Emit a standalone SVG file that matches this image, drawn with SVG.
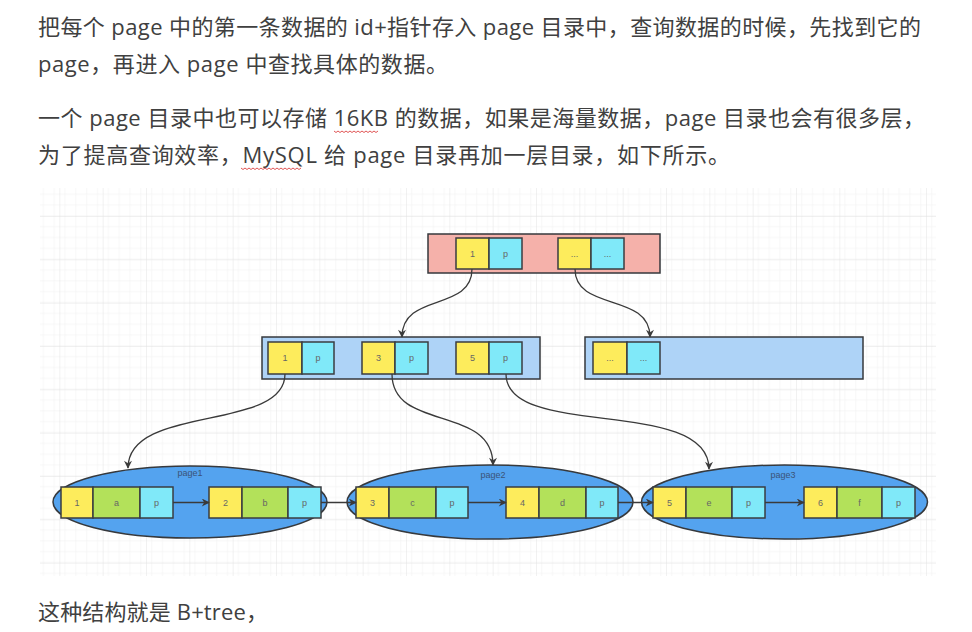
<svg xmlns="http://www.w3.org/2000/svg" width="972" height="632" viewBox="0 0 972 632">
<defs>
<style>
.body{font-family:"Open Sans","Noto Sans CJK SC",sans-serif;font-size:22px;fill:#404040}
.cell{stroke:#3a3d40;stroke-width:1.5}
.y{fill:#fdec5c}
.c{fill:#80e9f9}
.g{fill:#b3e15a}
.ct{font-family:"Liberation Sans",Arial,sans-serif;font-size:9px;fill:#666;text-anchor:middle}
.pl{font-family:"Liberation Sans",Arial,sans-serif;font-size:9px;fill:#3b5377;text-anchor:middle}
.ell{fill:#54a3ef;stroke:#36393d;stroke-width:1.5}
.con{fill:none;stroke:#3a3a3a;stroke-width:1.3;marker-end:url(#arr)}
.wave{fill:none;stroke:#e05555;stroke-width:1}
</style>
<marker id="arr" viewBox="0 0 10 10" refX="9" refY="5" markerWidth="9" markerHeight="8" orient="auto" markerUnits="userSpaceOnUse">
<path d="M0,0 L10,5 L0,10 L3,5 Z" fill="#3a3a3a"/>
</marker>
<pattern id="minor" patternUnits="userSpaceOnUse" x="16" y="-0.67" width="10.833" height="10.833">
<path d="M0,0 H10.833 M0,0 V10.833" stroke="#f0f0f0" stroke-width="1" fill="none"/>
</pattern>
<pattern id="major" patternUnits="userSpaceOnUse" x="16" y="-0.67" width="43.333" height="43.333">
<rect width="43.333" height="43.333" fill="url(#minor)"/>
<path d="M0,0 H43.333 M0,0 V43.333" stroke="#e3e3e3" stroke-width="1" fill="none"/>
</pattern>
</defs>
<rect width="972" height="632" fill="#ffffff"/>
<g id="text">
<text class="body" x="38" y="35" textLength="883" lengthAdjust="spacing">把每个 page 中的第一条数据的 id+指针存入 page 目录中，查询数据的时候，先找到它的</text>
<text class="body" x="38" y="72" textLength="410" lengthAdjust="spacing">page，再进入 page 中查找具体的数据。</text>
<text class="body" x="38" y="126" textLength="887" lengthAdjust="spacing">一个 page 目录中也可以存储 16KB 的数据，如果是海量数据，page 目录也会有很多层，</text>
<text class="body" x="38" y="163" textLength="692" lengthAdjust="spacing">为了提高查询效率，MySQL 给 page 目录再加一层目录，如下所示。</text>
<text class="body" x="38" y="620" textLength="230" lengthAdjust="spacing">这种结构就是 B+tree，</text>
<path class="wave" d="M334,131 l2,1.5 l2,-1.5 l2,1.5 l2,-1.5 l2,1.5 l2,-1.5 l2,1.5 l2,-1.5 l2,1.5 l2,-1.5 l2,1.5 l2,-1.5 l2,1.5 l2,-1.5 l2,1.5 l2,-1.5 l2,1.5 l2,-1.5 l2,1.5 l2,-1.5 l2,1.5 l2,-1.5"/>
<path class="wave" d="M241,168 l2,1.5 l2,-1.5 l2,1.5 l2,-1.5 l2,1.5 l2,-1.5 l2,1.5 l2,-1.5 l2,1.5 l2,-1.5 l2,1.5 l2,-1.5 l2,1.5 l2,-1.5 l2,1.5 l2,-1.5 l2,1.5 l2,-1.5 l2,1.5 l2,-1.5 l2,1.5 l2,-1.5 l2,1.5 l2,-1.5 l2,1.5 l2,-1.5 l2,1.5 l2,-1.5 l2,1.5 l2,-1.5"/>
</g>
<rect x="40" y="188" width="896" height="388" fill="url(#major)"/>
<g id="root">
<rect x="428" y="234" width="232" height="39" fill="#f5b1aa" stroke="#36393d" stroke-width="1.5"/>
<rect class="cell y" x="456" y="238" width="33" height="31"/>
<rect class="cell c" x="489" y="238" width="33" height="31"/>
<rect class="cell y" x="558" y="238" width="33" height="31"/>
<rect class="cell c" x="591" y="238" width="33" height="31"/>
<text class="ct" x="472.5" y="257">1</text>
<text class="ct" x="505.5" y="257">p</text>
<text class="ct" x="574.5" y="257">...</text>
<text class="ct" x="607.5" y="257">...</text>
</g>
<g id="mid1">
<rect x="262" y="337" width="278" height="42" fill="#aed3f7" stroke="#36393d" stroke-width="1.5"/>
<rect class="cell y" x="268" y="342" width="34" height="32"/>
<rect class="cell c" x="302" y="342" width="32" height="32"/>
<rect class="cell y" x="362" y="342" width="33" height="32"/>
<rect class="cell c" x="395" y="342" width="33" height="32"/>
<rect class="cell y" x="456" y="342" width="33" height="32"/>
<rect class="cell c" x="489" y="342" width="33" height="32"/>
<text class="ct" x="285" y="361">1</text>
<text class="ct" x="318" y="361">p</text>
<text class="ct" x="378.5" y="361">3</text>
<text class="ct" x="411.5" y="361">p</text>
<text class="ct" x="472.5" y="361">5</text>
<text class="ct" x="505.5" y="361">p</text>
</g>
<g id="mid2">
<rect x="585" y="337" width="278" height="42" fill="#aed3f7" stroke="#36393d" stroke-width="1.5"/>
<rect class="cell y" x="593" y="342" width="34" height="32"/>
<rect class="cell c" x="627" y="342" width="33" height="32"/>
<text class="ct" x="610" y="361">...</text>
<text class="ct" x="643.5" y="361">...</text>
</g>
<g id="page1">
<ellipse class="ell" cx="190" cy="502" rx="137" ry="36"/>
<text class="pl" x="190" y="476">page1</text>
<rect class="cell y" x="61" y="487" width="32" height="31"/>
<rect class="cell g" x="93" y="487" width="47" height="31"/>
<rect class="cell c" x="140" y="487" width="33" height="31"/>
<rect class="cell y" x="209" y="487" width="33" height="31"/>
<rect class="cell g" x="242" y="487" width="46" height="31"/>
<rect class="cell c" x="288" y="487" width="33" height="31"/>
<text class="ct" x="77" y="506">1</text>
<text class="ct" x="116.5" y="506">a</text>
<text class="ct" x="156.5" y="506">p</text>
<text class="ct" x="225.5" y="506">2</text>
<text class="ct" x="265" y="506">b</text>
<text class="ct" x="304.5" y="506">p</text>
</g>
<g id="page2">
<ellipse class="ell" cx="490" cy="502" rx="143" ry="37"/>
<text class="pl" x="493" y="478">page2</text>
<rect class="cell y" x="356" y="487" width="33" height="31"/>
<rect class="cell g" x="389" y="487" width="47" height="31"/>
<rect class="cell c" x="436" y="487" width="32" height="31"/>
<rect class="cell y" x="506" y="487" width="33" height="31"/>
<rect class="cell g" x="539" y="487" width="47" height="31"/>
<rect class="cell c" x="586" y="487" width="32" height="31"/>
<text class="ct" x="372.5" y="506">3</text>
<text class="ct" x="412.5" y="506">c</text>
<text class="ct" x="452" y="506">p</text>
<text class="ct" x="522.5" y="506">4</text>
<text class="ct" x="562.5" y="506">d</text>
<text class="ct" x="602" y="506">p</text>
</g>
<g id="page3">
<ellipse class="ell" cx="784.5" cy="502" rx="143" ry="37"/>
<text class="pl" x="783" y="478">page3</text>
<rect class="cell y" x="653" y="487" width="33" height="31"/>
<rect class="cell g" x="686" y="487" width="46" height="31"/>
<rect class="cell c" x="732" y="487" width="33" height="31"/>
<rect class="cell y" x="804" y="487" width="33" height="31"/>
<rect class="cell g" x="837" y="487" width="45" height="31"/>
<rect class="cell c" x="882" y="487" width="33" height="31"/>
<text class="ct" x="669.5" y="506">5</text>
<text class="ct" x="709" y="506">e</text>
<text class="ct" x="748.5" y="506">p</text>
<text class="ct" x="820.5" y="506">6</text>
<text class="ct" x="859.5" y="506">f</text>
<text class="ct" x="898.5" y="506">p</text>
</g>
<g id="connectors">
<path class="con" d="M472,269 C472,312 402,292 402,337"/>
<path class="con" d="M575,269 C575,312 650,292 650,337"/>
<path class="con" d="M285,374 C285,432 128,404 128,468"/>
<path class="con" d="M392,374 C392,432 493,404 493,465"/>
<path class="con" d="M506,374 C506,440 709,396 709,469"/>
<path class="con" d="M173,502.5 H209"/>
<path class="con" d="M321,502.5 H356"/>
<path class="con" d="M468,502.5 H506"/>
<path class="con" d="M618,502.5 H653"/>
<path class="con" d="M765,502.5 H804"/>
</g>
</svg>
